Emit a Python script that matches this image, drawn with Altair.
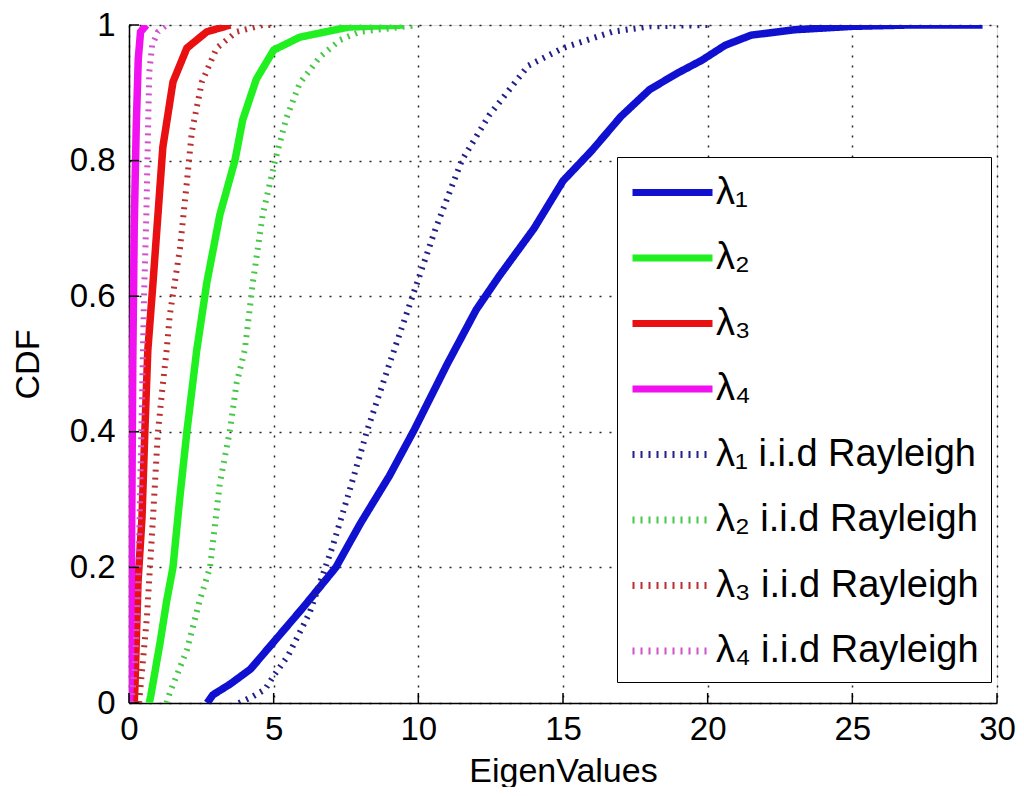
import altair as alt
import pandas as pd

FONT = "Liberation Sans"

series_names = ["λ₁", "λ₂", "λ₃", "λ₄",
                "λ₁ i.i.d Rayleigh", "λ₂ i.i.d Rayleigh",
                "λ₃ i.i.d Rayleigh", "λ₄ i.i.d Rayleigh"]
series_colors = ["#1010d0", "#20f020", "#e81010", "#f010f0",
                 "#202088", "#48c848", "#b83030", "#d050d0"]
series_dash = [[1, 0], [1, 0], [1, 0], [1, 0],
               [2, 6], [2, 6], [2, 6], [2, 6]]

# Measured CDF curves
lam1_x = [2.7, 2.9, 3.5, 4.2, 5.0, 6.0, 7.15, 8.0, 9.0, 9.86, 11.0, 12.0, 12.8, 14.0,
          15.0, 16.0, 17.0, 18.0, 19.0, 19.8, 20.6, 21.5, 23.0, 25.0, 27.0, 29.5]
lam1_y = [0.0, 0.012, 0.028, 0.05, 0.09, 0.14, 0.20, 0.265, 0.335, 0.403, 0.50, 0.58, 0.63, 0.70,
          0.77, 0.815, 0.865, 0.905, 0.93, 0.948, 0.97, 0.985, 0.993, 0.998, 1.0, 1.0]

lam2_x = [0.7, 0.75, 1.07, 1.3, 1.52, 1.75, 2.0, 2.34, 2.69, 3.14, 3.66, 3.93, 4.4, 5.0, 5.9, 7.6, 9.5]
lam2_y = [0.0, 0.01, 0.088, 0.15, 0.20, 0.30, 0.40, 0.52, 0.62, 0.72, 0.80, 0.86, 0.92, 0.963, 0.982, 0.997, 1.0]

lam3_x = [0.18, 0.21, 0.31, 0.45, 0.55, 0.65, 0.83, 1.0, 1.17, 1.52, 2.0, 2.69, 3.5]
lam3_y = [0.0, 0.03, 0.177, 0.274, 0.403, 0.52, 0.62, 0.72, 0.82, 0.916, 0.966, 0.99, 1.0]

lam4_x = [0.02, 0.05, 0.08, 0.1, 0.13, 0.18, 0.25, 0.32, 0.4, 0.6]
lam4_y = [0.0, 0.05, 0.2, 0.3, 0.5, 0.7, 0.85, 0.95, 0.99, 1.0]

ray1_x = [3.8, 4.3, 4.7, 5.0, 5.5, 6.24, 7.03, 7.6, 8.24, 9.0, 9.8, 10.6, 11.5, 12.45,
          13.8, 15.0, 16.7, 18.0, 20.0]
ray1_y = [0.0, 0.01, 0.02, 0.04, 0.07, 0.133, 0.23, 0.31, 0.403, 0.50, 0.60, 0.70, 0.80, 0.867,
          0.94, 0.966, 0.99, 0.998, 1.0]

ray2_x = [1.3, 1.41, 2.0, 2.45, 2.8, 3.14, 3.48, 3.72, 4.0, 4.28, 4.62, 5.05, 5.45, 5.9, 6.6, 7.3, 7.97, 10.0]
ray2_y = [0.0, 0.015, 0.078, 0.152, 0.20, 0.324, 0.40, 0.472, 0.52, 0.62, 0.72, 0.80, 0.864, 0.914, 0.953, 0.978, 0.99, 1.0]

ray3_x = [0.35, 0.38, 0.62, 0.83, 1.0, 1.17, 1.3, 1.41, 1.76, 2.0, 2.17, 2.52, 3.03, 3.72, 4.62, 5.0]
ray3_y = [0.0, 0.015, 0.127, 0.274, 0.40, 0.47, 0.52, 0.572, 0.67, 0.768, 0.842, 0.916, 0.966, 0.99, 1.0, 1.0]

ray4_x = [0.08, 0.2, 0.3, 0.38, 0.45, 0.52, 0.6, 0.66, 0.7, 0.8, 1.0, 1.3]
ray4_y = [0.0, 0.05, 0.15, 0.3, 0.45, 0.6, 0.72, 0.85, 0.93, 0.97, 0.99, 1.0]

x_ticks = [0, 5, 10, 15, 20, 25, 30]
y_ticks = [0, 0.2, 0.4, 0.6, 0.8, 1.0]

curves = [(lam1_x, lam1_y), (lam2_x, lam2_y), (lam3_x, lam3_y), (lam4_x, lam4_y),
          (ray1_x, ray1_y), (ray2_x, ray2_y), (ray3_x, ray3_y), (ray4_x, ray4_y)]

rows = []
for k, (xs, ys) in enumerate(curves):
    for i, (xv, yv) in enumerate(zip(xs, ys)):
        rows.append({"series": series_names[k], "x": xv, "y": yv, "i": i,
                     "kind": "solid" if k < 4 else "dotted"})
df = pd.DataFrame(rows)

W, H = 868, 678

x_scale = alt.Scale(domain=[0, 30], nice=False, zero=False)
y_scale = alt.Scale(domain=[0, 1], nice=False, zero=False)

x_axis = alt.Axis(values=x_ticks, title="EigenValues", grid=True, ticks=False,
                  labelFontSize=33, labelFont=FONT, labelColor="black", labelPadding=10,
                  titleFontSize=34, titleFont=FONT, titleFontWeight="normal", titleColor="black",
                  titlePadding=8, domainColor="black", domainWidth=1.5,
                  gridColor="black", gridDash=[2, 8], gridWidth=1.5, gridOpacity=0.85,
                  labelFlush=False)
y_axis = alt.Axis(values=y_ticks, title="CDF", grid=True, ticks=False, format="~g",
                  labelFontSize=33, labelFont=FONT, labelColor="black", labelPadding=14,
                  titleFontSize=34, titleFont=FONT, titleFontWeight="normal", titleColor="black",
                  titlePadding=24, domainColor="black", domainWidth=1.5,
                  gridColor="black", gridDash=[2, 8], gridWidth=1.5, gridOpacity=0.85,
                  labelFlush=False)


def make_legend():
    return alt.Legend(title=None, orient="none", legendX=488, legendY=132,
                      symbolType="M-2,0H2", symbolSize=1600, symbolStrokeWidth=7,
                      symbolOffset=20,
                      labelFontSize=38, labelFont=FONT, labelColor="black",
                      labelOffset=20, rowPadding=22.5, padding=12,
                      strokeColor="black", fillColor="white", labelLimit=400)


color = alt.Color("series:N",
                  scale=alt.Scale(domain=series_names, range=series_colors),
                  legend=make_legend())
dash = alt.StrokeDash("series:N",
                      scale=alt.Scale(domain=series_names, range=series_dash),
                      legend=make_legend())

solid = alt.Chart(df).transform_filter(alt.datum.kind == "solid").mark_line(
    strokeWidth=7.5, clip=True).encode(
    x=alt.X("x:Q", scale=x_scale, axis=x_axis),
    y=alt.Y("y:Q", scale=y_scale, axis=y_axis),
    color=color, strokeDash=dash, order="i:Q", detail="series:N")

dotted = alt.Chart(df).transform_filter(alt.datum.kind == "dotted").mark_line(
    strokeWidth=6, clip=True).encode(
    x=alt.X("x:Q", scale=x_scale),
    y=alt.Y("y:Q", scale=y_scale),
    color=color, strokeDash=dash, order="i:Q", detail="series:N")

xt = alt.Chart(pd.DataFrame({"v": x_ticks})).mark_rule(color="black", strokeWidth=1.5).encode(
    x=alt.X("v:Q", scale=x_scale), y=alt.value(H), y2=alt.value(H - 10))
yt = alt.Chart(pd.DataFrame({"v": y_ticks})).mark_rule(color="black", strokeWidth=1.5).encode(
    y=alt.Y("v:Q", scale=y_scale), x=alt.value(0), x2=alt.value(10))

chart = alt.layer(solid, dotted, xt, yt).properties(
    width=W, height=H,
    autosize=alt.AutoSizeParams(type="none"),
    padding={"left": 121, "top": 17, "right": 19, "bottom": 84},
).configure_view(stroke=None).configure(background="white")

chart.save("out.html", embed_options={"renderer": "svg", "actions": False})
